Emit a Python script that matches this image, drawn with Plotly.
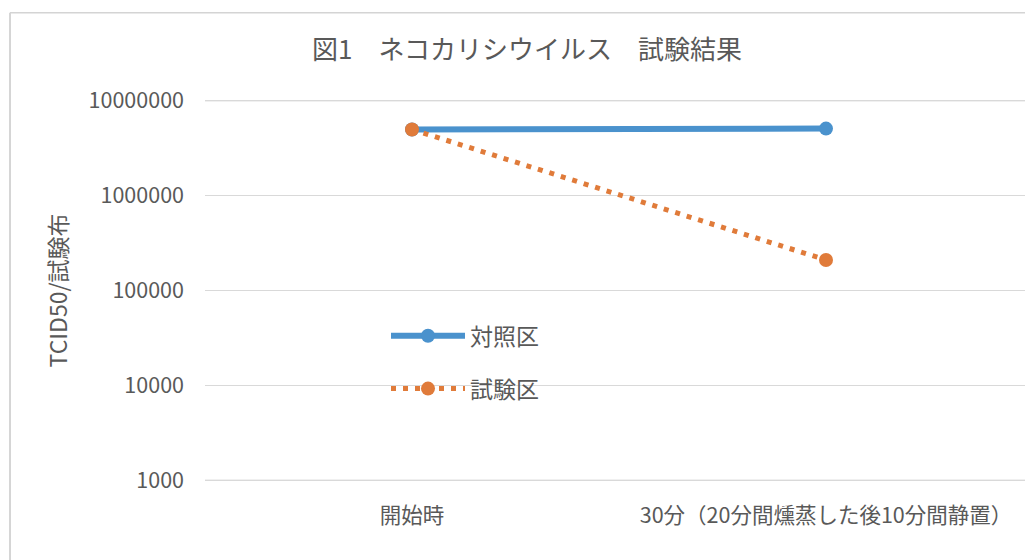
import plotly.graph_objects as go

categories = ["開始時", "30分（20分間燻蒸した後10分間静置）"]
control_values = [5000000, 5100000]
test_values = [5000000, 210000]
series_names = ["対照区", "試験区"]
ytick_vals = [1000, 10000, 100000, 1000000, 10000000]
ytick_text = ["1000", "10000", "100000", "1000000", "10000000"]

FONT = "Noto Sans CJK JP"
GRAY = "#595959"
BLUE = "#4A92CD"
ORANGE = "#E07B3A"
GRID = "#D9D9D9"

fig = go.Figure()
fig.add_trace(go.Scatter(
    x=categories, y=control_values, name=series_names[0], mode="lines+markers",
    line=dict(color=BLUE, width=6),
    marker=dict(color=BLUE, size=14, symbol="circle"),
    legendgroup="a",
))
fig.add_trace(go.Scatter(
    x=categories, y=test_values, name=series_names[1], mode="lines+markers",
    line=dict(color=ORANGE, width=5, dash="5px,7px"),
    marker=dict(color=ORANGE, size=14, symbol="circle"),
    legendgroup="b",
))

# boundary gridlines (plotly omits gridlines at the plot edges)
edge_lines = [dict(type="line", xref="paper", yref="y", x0=0, x1=1, y0=v, y1=v,
                   line=dict(color=GRID, width=1), layer="below")
              for v in (ytick_vals[0], ytick_vals[-1])]

# page body has an 8px margin; margins compensate so the plot sits where the reference has it
fig.update_layout(
    width=1033, height=560,
    margin=dict(l=197, r=8, t=91, b=86),
    paper_bgcolor="white", plot_bgcolor="white",
    font=dict(family=FONT, color=GRAY, size=20),
    title=dict(text="図1　ネコカリシウイルス　試験結果", x=(527 - 8) / 1033, xanchor="center",
               y=1 - 42 / 560, yanchor="middle", font=dict(size=26, color=GRAY, family=FONT)),
    showlegend=True,
    legend=dict(x=0.2186, y=0.438, xanchor="left", yanchor="top",
                bgcolor="rgba(0,0,0,0)", font=dict(size=23, color=GRAY, family=FONT),
                tracegroupgap=20, itemwidth=74),
    xaxis=dict(type="category", range=[-0.5, 1.5], showgrid=False, showline=False,
               ticks="", ticklabelstandoff=18, tickfont=dict(size=21.5, color=GRAY), zeroline=False),
    yaxis=dict(type="log", range=[2.98, 7.02], tickvals=ytick_vals, ticktext=ytick_text,
               showgrid=True, gridcolor=GRID, gridwidth=1, showline=False, zeroline=False,
               ticks="", ticklabelstandoff=20, tickfont=dict(size=21.5, color=GRAY),
               title=dict(text="TCID50/試験布", font=dict(size=23, color=GRAY), standoff=14)),
    shapes=edge_lines + [
        dict(type="line", xref="paper", yref="paper", x0=-0.2355, x1=-0.2355, y0=-0.3, y1=1.225,
             line=dict(color="#C8C8C8", width=1.5)),
        dict(type="line", xref="paper", yref="paper", x0=-0.2355, x1=1.0, y0=1.225, y1=1.225,
             line=dict(color="#D4D4D4", width=1.5)),
    ],
)

fig.write_html("out.html")
